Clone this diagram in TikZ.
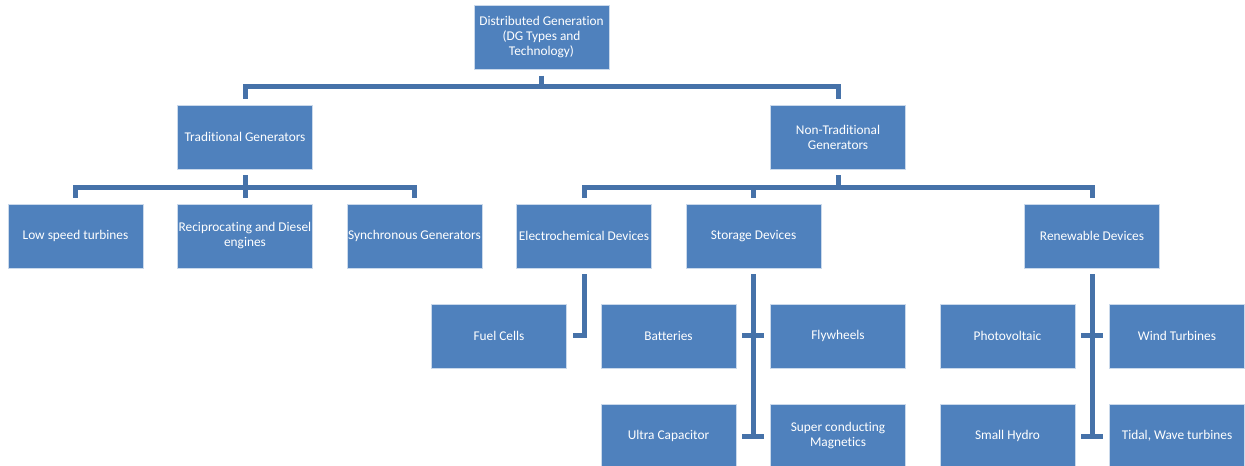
\documentclass[tikz,border=0pt]{standalone}
\usepackage{fontspec}
\setmainfont{Carlito}[Ligatures={NoCommon}]
\usetikzlibrary{positioning}
\definecolor{boxblue}{HTML}{4F81BD}
\definecolor{lineblue}{HTML}{4672A9}

\begin{document}
\begin{tikzpicture}[
    x=0.75pt, y=-0.75pt,
    box/.style={rectangle, fill=boxblue, draw=white!70!boxblue, line width=0.4pt, text=white,
                minimum width=101pt, minimum height=48pt, inner sep=0pt, align=center,
                font=\fontsize{10}{11.25}\selectfont},
    conn/.style={lineblue, line width=3.75pt, shorten <=4.5pt, shorten >=4.5pt}
]

% Rahmen
\useasboundingbox (0,0) rectangle (1245,466);

% Wurzel und erste Ebene
\node[box] (root) at (541.5,37.5) {Distributed Generation\\(DG Types and\\Technology)};
\node[box] (trad) at (245,137) {Traditional Generators};
\node[box] (nontrad) at (838,137) {Non-Traditional\\Generators};

% Zweite Ebene
\node[box] (low) at (75.5,236) {Low speed turbines};
\node[box] (recip) at (245,236) {Reciprocating and Diesel\\engines};
\node[box] (sync) at (414.5,236) {Synchronous Generators};
\node[box] (elec) at (584,236) {Electrochemical Devices};
\node[box] (stor) at (753.5,236) {Storage Devices};
\node[box] (renew) at (1092,236) {Renewable Devices};

% Dritte Ebene
\node[box] (fuel) at (499,336) {Fuel Cells};
\node[box] (batt) at (668.5,336) {Batteries};
\node[box] (fly) at (838,336) {Flywheels};
\node[box] (pv) at (1007.5,336) {Photovoltaic};
\node[box] (wind) at (1177,336) {Wind Turbines};
\node[box] (ultra) at (668.5,436) {Ultra Capacitor};
\node[box] (super) at (838,436) {Super conducting\\Magnetics};
\node[box] (hydro) at (1007.5,436) {Small Hydro};
\node[box] (tidal) at (1177,436) {Tidal, Wave turbines};

% Verbindungen oben
\draw[conn] (root.south) -- ++(0,17) -| (trad.north);
\draw[conn] (root.south) -- ++(0,17) -| (nontrad.north);

% Verbindungen zweite Ebene
\foreach \c in {low, recip, sync}
    \draw[conn] (trad.south) -- ++(0,18) -| (\c.north);
\foreach \c in {elec, stor, renew}
    \draw[conn] (nontrad.south) -- ++(0,18) -| (\c.north);

% Verbindungen dritte Ebene
\draw[conn] (elec.south) |- (fuel.east);
\foreach \c in {batt, ultra}
    \draw[conn] (stor.south) |- (\c.east);
\foreach \c in {fly, super}
    \draw[conn] (stor.south) |- (\c.west);
\foreach \c in {pv, hydro}
    \draw[conn] (renew.south) |- (\c.east);
\foreach \c in {wind, tidal}
    \draw[conn] (renew.south) |- (\c.west);

\end{tikzpicture}
\end{document}
